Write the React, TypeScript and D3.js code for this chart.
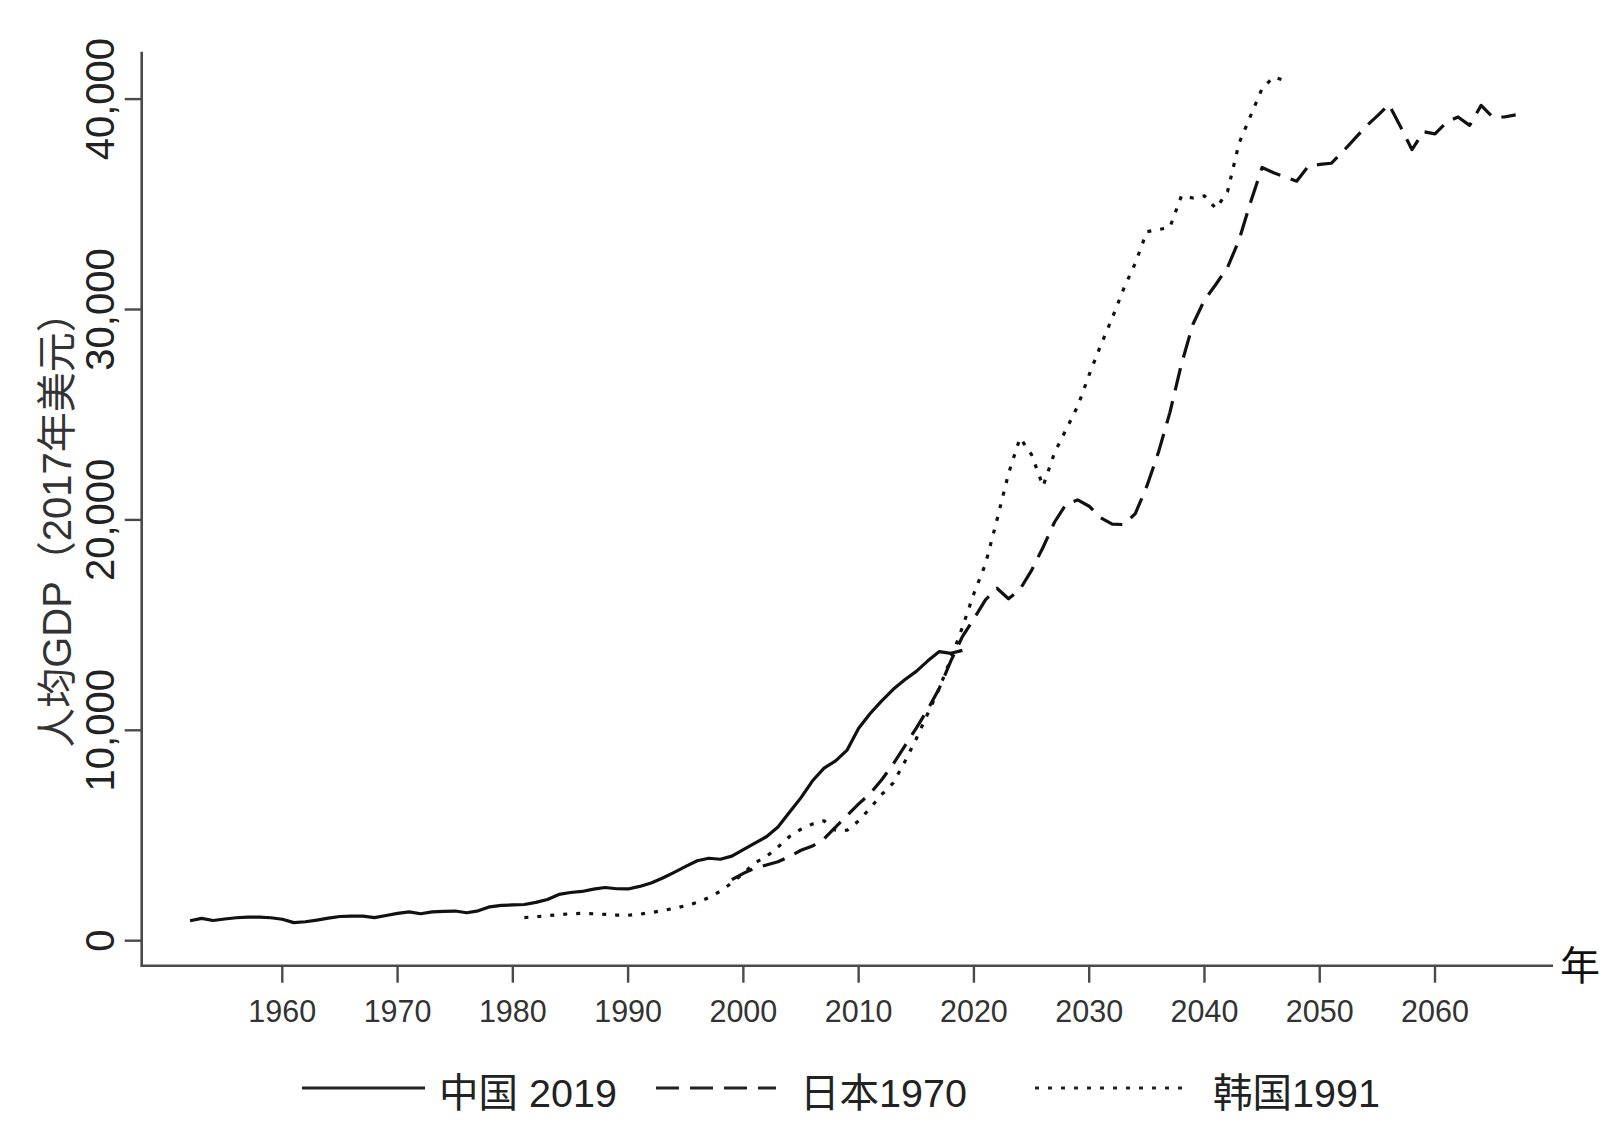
import React from "react";
import * as d3 from "d3";

const chinaStart = 1952;
const chinaValues = [950, 1060, 960, 1030, 1090, 1120, 1120, 1090, 1020, 860, 900, 980, 1070, 1150, 1170, 1170, 1100, 1200, 1300, 1370, 1280, 1370, 1390, 1410, 1330, 1420, 1610, 1680, 1700, 1720, 1820, 1960, 2200, 2290, 2340, 2450, 2530, 2470, 2460, 2580, 2740, 2980, 3250, 3530, 3800, 3920, 3870, 4020, 4330, 4640, 4940, 5400, 6100, 6800, 7600, 8200, 8550, 9060, 10100, 10800, 11400, 11950, 12400, 12800, 13300, 13740, 13660, 13800];

const japanStart = 1999;
const japanValues = [2900, 3200, 3450, 3600, 3750, 4000, 4300, 4500, 4850, 5400, 5950, 6500, 7000, 7650, 8400, 9250, 10100, 11000, 12000, 13300, 14450, 15300, 16200, 16750, 16250, 16700, 17600, 18700, 19900, 20750, 20950, 20650, 20100, 19800, 19780, 20300, 21600, 23200, 25100, 27400, 29300, 30450, 31200, 32000, 33300, 35100, 36750, 36500, 36300, 36100, 36800, 36900, 36950, 37500, 38100, 38700, 39200, 39750, 38700, 37600, 38450, 38350, 38900, 39150, 38750, 39700, 39150, 39150, 39250];

const koreaStart = 1981;
const koreaValues = [1100, 1140, 1190, 1240, 1280, 1300, 1280, 1250, 1220, 1210, 1260, 1340, 1430, 1540, 1660, 1820, 2050, 2350, 2750, 3200, 3700, 4000, 4450, 4950, 5300, 5550, 5700, 5250, 5250, 5700, 6300, 6950, 7500, 8500, 9600, 10800, 12000, 13400, 14900, 16500, 17900, 20000, 22200, 23900, 23100, 21600, 23200, 24300, 25400, 26900, 28300, 29600, 31000, 32200, 33700, 33800, 33900, 35400, 35300, 35400, 34800, 35600, 37900, 39200, 40500, 41050, 40880];

const xTicks = [1960, 1970, 1980, 1990, 2000, 2010, 2020, 2030, 2040, 2050, 2060];
const yTicks = [0, 10000, 20000, 30000, 40000];

const seriesNames = ["中国 2019", "日本1970", "韩国1991"];
const yTitle = "人均GDP（2017年美元）";
const xTitle = "年";

const FONT = "'Liberation Sans', Arial, 'Noto Sans CJK SC', sans-serif";

function toPoints(start: number, values: number[]) {
  return values.map((v, i) => ({ year: start + i, value: v }));
}

const DASH = "23 11";
const DOT = "4 9";

export default function App() {
  const x = d3.scaleLinear().domain([1960, 2060]).range([282.3, 1435]);
  const y = d3.scaleLinear().domain([0, 40000]).range([940.7, 99.1]);
  const line = d3
    .line<{ year: number; value: number }>()
    .x((d) => x(d.year))
    .y((d) => y(d.value))
    .curve(d3.curveLinear);

  const series = [
    { name: seriesNames[0], pts: toPoints(chinaStart, chinaValues), dash: undefined as string | undefined },
    { name: seriesNames[1], pts: toPoints(japanStart, japanValues), dash: DASH },
    { name: seriesNames[2], pts: toPoints(koreaStart, koreaValues), dash: DOT },
  ];

  const fmt = d3.format(",");
  const axisLeft = 141.7;
  const axisBottom = 965.7;
  const axisTop = 51.7;
  const axisRight = 1553;
  const axisColor = "#4a4a4a";

  const legend = [
    { x1: 302, x2: 425, tx: 439, dash: undefined as string | undefined },
    { x1: 656, x2: 776, tx: 800, dash: DASH },
    { x1: 1035, x2: 1184, tx: 1213, dash: DOT },
  ];

  return (
    <svg
      width={1620}
      height={1129}
      style={{ position: "absolute", left: 0, top: 0, background: "#fff" }}
      fontFamily={FONT}
    >
      <rect x={0} y={0} width={1620} height={1129} fill="#fff" />
      <line x1={axisLeft} y1={axisTop} x2={axisLeft} y2={axisBottom + 1} stroke={axisColor} strokeWidth={2.6} />
      <line x1={axisLeft - 1} y1={axisBottom} x2={axisRight} y2={axisBottom} stroke={axisColor} strokeWidth={2.6} />
      {yTicks.map((t) => (
        <g key={"y" + t}>
          <line x1={axisLeft - 17} x2={axisLeft} y1={y(t)} y2={y(t)} stroke={axisColor} strokeWidth={2.4} />
          <text
            transform={`translate(113.5,${y(t)}) rotate(-90)`}
            textAnchor="middle"
            fontSize={40}
            fill="#222"
          >
            {fmt(t)}
          </text>
        </g>
      ))}
      {xTicks.map((t) => (
        <g key={"x" + t}>
          <line x1={x(t)} x2={x(t)} y1={axisBottom} y2={axisBottom + 17} stroke={axisColor} strokeWidth={2.4} />
          <text x={x(t)} y={1022} textAnchor="middle" fontSize={30.5} fill="#333">
            {t}
          </text>
        </g>
      ))}
      <text x={1580} y={980} textAnchor="middle" fontSize={40} fill="#111">
        {xTitle}
      </text>
      <text
        transform={`translate(71,520) rotate(-90)`}
        textAnchor="middle"
        fontSize={40}
        fill="#333"
      >
        {yTitle}
      </text>
      {series.map((s) => (
        <path
          key={s.name}
          d={line(s.pts) || ""}
          fill="none"
          stroke="#111"
          strokeWidth={3.2}
          strokeDasharray={s.dash}
          strokeLinejoin="round"
        />
      ))}
      {legend.map((l, i) => (
        <g key={"lg" + i}>
          <line x1={l.x1} x2={l.x2} y1={1088} y2={1088} stroke="#222" strokeWidth={3.2} strokeDasharray={l.dash} />
          <text x={l.tx} y={1107} fontSize={39.5} fill="#222">
            {seriesNames[i]}
          </text>
        </g>
      ))}
    </svg>
  );
}
